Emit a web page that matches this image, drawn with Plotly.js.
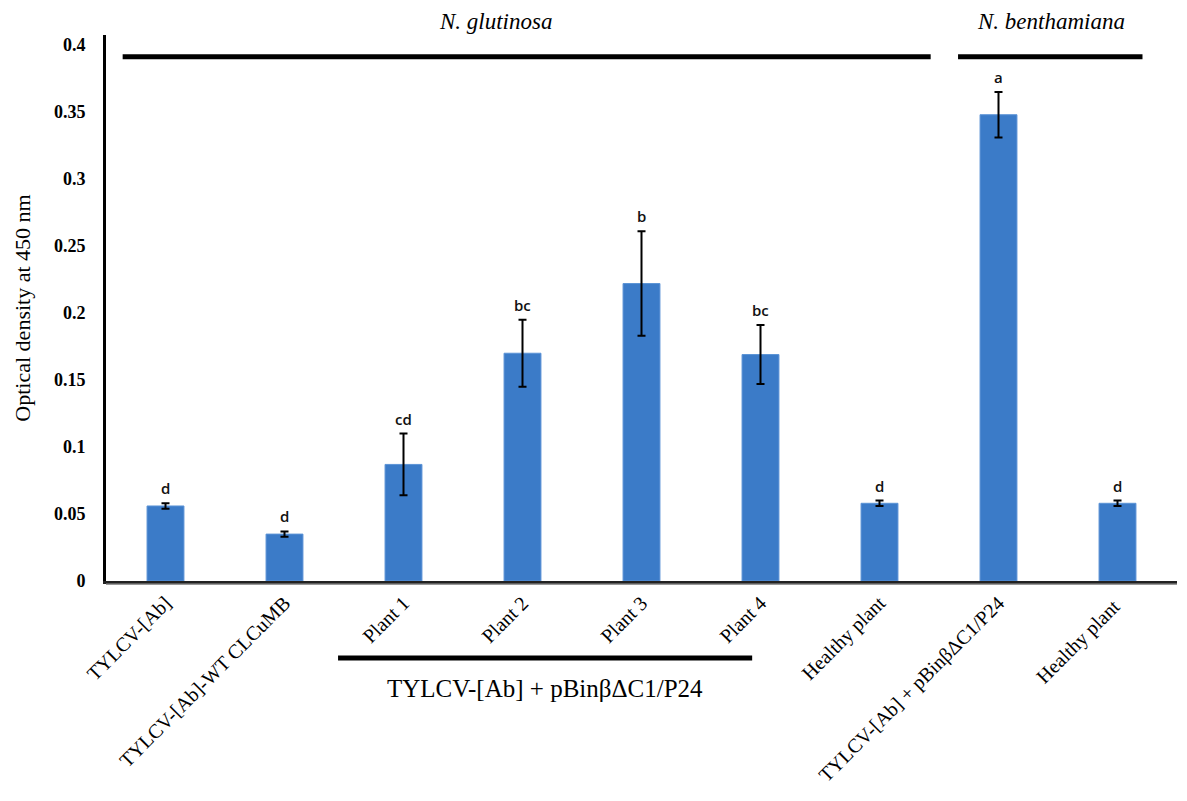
<!DOCTYPE html>
<html><head><meta charset="utf-8">
<script src="https://cdn.plot.ly/plotly-3.0.1.min.js"></script>
<style>body{margin:0;background:#fff}#c{width:1187px;height:801px}</style>
</head><body><div id="c"></div>
<script>
const categories = ["TYLCV-[Ab]", "TYLCV-[Ab]-WT CLCuMB", "Plant 1", "Plant 2", "Plant 3", "Plant 4", "Healthy plant", "TYLCV-[Ab] + pBinβΔC1/P24", "Healthy plant "];
const values = [0.056, 0.035, 0.087, 0.170, 0.222, 0.169, 0.058, 0.348, 0.058];
const errors = [0.002, 0.002, 0.023, 0.025, 0.039, 0.022, 0.002, 0.017, 0.002];
const letters = ["d", "d", "cd", "bc", "b", "bc", "d", "a", "d"];
const yTicks = [0, 0.05, 0.1, 0.15, 0.2, 0.25, 0.3, 0.35, 0.4];
const yTickText = ["0", "0.05", "0.1", "0.15", "0.2", "0.25", "0.3", "0.35", "0.4"];

const serif = "Liberation Serif, Times New Roman, serif";
const annotations = categories.map((c, i) => ({
  x: c, y: values[i] + errors[i], xref: "x", yref: "y",
  text: letters[i], showarrow: false, yanchor: "bottom", yshift: 3,
  font: {family: "Open Sans, sans-serif", size: 15, color: "#111", weight: 600}
}));
annotations.push(
  {x: 2.77, y: 1.024, xref: "x", yref: "paper", yanchor: "middle", text: "<i>N. glutinosa</i>", showarrow: false,
   font: {family: serif, size: 23, color: "#000"}},
  {x: 7.44, y: 1.024, xref: "x", yref: "paper", yanchor: "middle", text: "<i>N. benthamiana</i>", showarrow: false,
   font: {family: serif, size: 23, color: "#000"}},
  {x: 3.19, y: -0.196, xref: "x", yref: "paper", yanchor: "middle", text: "TYLCV-[Ab] + pBinβΔC1/P24", showarrow: false,
   font: {family: serif, size: 25, color: "#000"}}
);

const shapes = [
  {type: "line", xref: "x", yref: "paper", x0: -0.36, x1: 6.43, y0: 0.96, y1: 0.96, line: {color: "#000", width: 5}},
  {type: "line", xref: "x", yref: "paper", x0: 6.66, x1: 8.21, y0: 0.96, y1: 0.96, line: {color: "#000", width: 5}},
  {type: "line", xref: "x", yref: "paper", x0: 1.45, x1: 4.93, y0: -0.141, y1: -0.141, line: {color: "#000", width: 5}},
  {type: "line", xref: "paper", yref: "paper", x0: 0, x1: 1, y0: -0.006, y1: -0.006, line: {color: "#999", width: 1.5}}
];

Plotly.newPlot("c", [{
  type: "bar", x: categories, y: values,
  marker: {color: "#3b7bc8", line: {color: "#5b93d6", width: 1}},
  width: 0.31,
  error_y: {type: "data", array: errors, visible: true, color: "#000", thickness: 2, width: 4}
}], {
  width: 1187, height: 801,
  margin: {l: 106, r: 10, t: 35, b: 220},
  paper_bgcolor: "#fff", plot_bgcolor: "#fff",
  showlegend: false, bargap: 0.69,
  xaxis: {
    type: "category", tickangle: -45, showline: true, linecolor: "#222", linewidth: 2.5,
    ticks: "", showgrid: false, zeroline: false,
    tickfont: {family: serif, size: 20, color: "#000"}, automargin: false
  },
  yaxis: {
    range: [0, 0.4075], tickvals: yTicks, ticktext: yTickText,
    showline: true, linecolor: "#000", linewidth: 3, ticks: "", showgrid: false, zeroline: false,
    ticklabelstandoff: 14,
    tickfont: {family: serif, size: 18, color: "#000", weight: "bold"},
    title: {text: "Optical density at 450 nm", font: {family: serif, size: 22, color: "#000"}, standoff: 18},
    automargin: false
  },
  annotations: annotations, shapes: shapes
}, {staticPlot: true});
</script></body></html>
